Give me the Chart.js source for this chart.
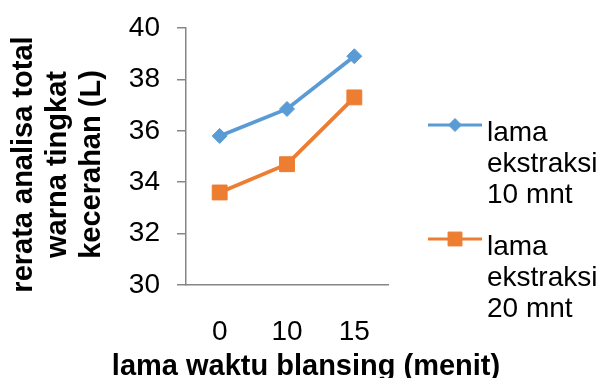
<!DOCTYPE html>
<html><head><meta charset="utf-8">
<script src="https://cdn.jsdelivr.net/npm/chart.js@4/dist/chart.umd.min.js"></script>
<style>html,body{margin:0;padding:0;background:#fff;overflow:hidden}#wrap{width:606px;height:378px}</style>
</head><body><div id="wrap"><canvas id="c" width="606" height="378"></canvas></div>
<script>
const categories = ['0', '10', '15'];
const series10 = [35.8, 36.85, 38.9];
const series20 = [33.6, 34.7, 37.3];
const seriesNames = [['lama', 'ekstraksi', '10 mnt'], ['lama', 'ekstraksi', '20 mnt']];
const yTitle = ['rerata analisa total', 'warna tingkat', 'kecerahan (L)'];
const xTitle = 'lama waktu blansing (menit)';
const yMin = 30, yMax = 40, yStep = 2;

const FONT = '"Liberation Sans", Arial, sans-serif';
const BLUE = '#5B9BD5', ORANGE = '#ED7D31', AXIS = '#868686';

const sideLegend = {
  id: 'sideLegend',
  afterDraw(chart) {
    const ctx = chart.ctx, ca = chart.chartArea;
    const x0 = ca.right + 40, len = 54, tx = x0 + len + 5;
    const firstY = 125, itemGap = 114, lh = 31;
    chart.data.datasets.forEach((ds, i) => {
      const sy = firstY + i * itemGap;
      ctx.save();
      ctx.strokeStyle = ds.borderColor; ctx.lineWidth = 3;
      ctx.beginPath(); ctx.moveTo(x0, sy); ctx.lineTo(x0 + len, sy); ctx.stroke();
      const cx = x0 + len / 2;
      ctx.fillStyle = ds.backgroundColor;
      ctx.beginPath();
      if (ds.pointStyle === 'rectRot') {
        const r = ds.pointRadius - 1;
        ctx.moveTo(cx - r, sy); ctx.lineTo(cx, sy - r); ctx.lineTo(cx + r, sy); ctx.lineTo(cx, sy + r);
      } else {
        const s = ds.pointRadius * Math.SQRT1_2 - 0.5;
        ctx.rect(cx - s, sy - s, 2 * s, 2 * s);
      }
      ctx.closePath(); ctx.fill();
      ctx.lineWidth = 1; ctx.stroke();
      ctx.fillStyle = '#000';
      ctx.font = '28px ' + FONT;
      ctx.textAlign = 'left'; ctx.textBaseline = 'alphabetic';
      seriesNames[i].forEach((t, j) => ctx.fillText(t, tx, sy + 16 + j * lh));
      ctx.restore();
    });
  }
};

const titlesPlugin = {
  id: 'titlesPlugin',
  afterDraw(chart) {
    const ctx = chart.ctx, ca = chart.chartArea;
    ctx.save();
    ctx.fillStyle = '#000';
    ctx.font = 'bold 29px ' + FONT;
    ctx.textAlign = 'center'; ctx.textBaseline = 'alphabetic';
    ctx.fillText(xTitle, (ca.left + ca.right) / 2 + 19, 375);
    const cy = (ca.top + ca.bottom) / 2 + 8;
    ctx.textBaseline = 'middle';
    yTitle.forEach((t, j) => {
      ctx.save();
      ctx.translate(24 + j * 34, cy);
      ctx.rotate(-Math.PI / 2);
      ctx.fillText(t, 0, 0);
      ctx.restore();
    });
    ctx.restore();
  }
};

new Chart(document.getElementById('c'), {
  type: 'line',
  data: {
    labels: categories,
    datasets: [
      { label: seriesNames[0].join(' '), data: series10, borderColor: BLUE, backgroundColor: BLUE,
        borderWidth: 3.8, pointStyle: 'rectRot', pointRadius: 7.5, pointBorderWidth: 1, tension: 0 },
      { label: seriesNames[1].join(' '), data: series20, borderColor: ORANGE, backgroundColor: ORANGE,
        borderWidth: 3.8, pointStyle: 'rect', pointRadius: 10.5, pointBorderWidth: 1, tension: 0 }
    ]
  },
  options: {
    responsive: false, animation: false, devicePixelRatio: 1,
    layout: { padding: { left: 0, right: 218, top: 28, bottom: 0 } },
    plugins: { legend: { display: false }, tooltip: { enabled: false } },
    scales: {
      x: {
        offset: true,
        grid: { display: false },
        border: { display: true, color: AXIS, width: 1.5 },
        ticks: { color: '#000', font: { family: FONT, size: 28 }, padding: 22, maxRotation: 0, minRotation: 0 },
        afterFit(scale) { scale.height = 93; scale.paddingLeft = 0; scale.paddingRight = 0; }
      },
      y: {
        min: yMin, max: yMax,
        grid: { display: true, drawOnChartArea: false, drawTicks: true, tickLength: 9, color: AXIS, lineWidth: 1.5 },
        border: { display: true, color: AXIS, width: 1.5 },
        ticks: { stepSize: yStep, color: '#000', font: { family: FONT, size: 28 }, padding: 17 },
        afterFit(scale) { scale.width = 186; scale.paddingTop = 0; scale.paddingBottom = 0; }
      }
    }
  },
  plugins: [sideLegend, titlesPlugin]
});
</script>
</body></html>
